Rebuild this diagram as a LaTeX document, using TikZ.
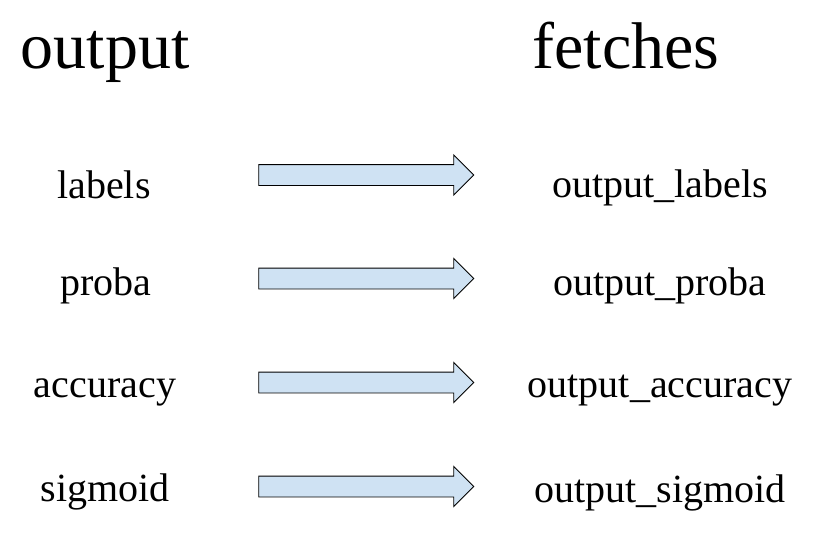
\documentclass[tikz,border=0pt]{standalone}
\usepackage{fontspec}
\setmainfont{Liberation Serif}
\usetikzlibrary{shapes.arrows}
\definecolor{arrowfill}{RGB}{207,226,243}
\begin{document}
\begin{tikzpicture}[x=1pt,y=-1pt,
  title/.style={anchor=base,inner sep=0pt,font=\fontsize{66}{70}\selectfont},
  lbl/.style={anchor=base,inner sep=0pt,font=\fontsize{40}{44}\selectfont},
  blockarrow/.style={single arrow,draw=black,fill=arrowfill,line width=0.9pt,
    minimum height=215pt,inner xsep=0pt,inner ysep=10pt,text height=0pt,text depth=0pt,
    text width=0pt,single arrow head extend=9.5pt,single arrow head indent=0pt}]
\useasboundingbox (0,0) rectangle (835,541);
\node[title] (tout) at (105,68) {output};
\node[title] (tfet) at (626,68) {fetches};
\node[lbl] (l1) at (104,198) {labels};
\node[lbl] (l2) at (106,295) {proba};
\node[lbl] (l3) at (105,397) {accuracy};
\node[lbl] (l4) at (105,501) {sigmoid};
\node[lbl] (r1) at (660,197) {output\_labels};
\node[lbl] (r2) at (660,295) {output\_proba};
\node[lbl] (r3) at (660,397) {output\_accuracy};
\node[lbl] (r4) at (660,502) {output\_sigmoid};
\node[blockarrow] (a1) at (361,175) {};
\node[blockarrow] (a2) at (361,278.5) {};
\node[blockarrow] (a3) at (361,382.5) {};
\node[blockarrow] (a4) at (361,486.5) {};
\end{tikzpicture}
\end{document}
